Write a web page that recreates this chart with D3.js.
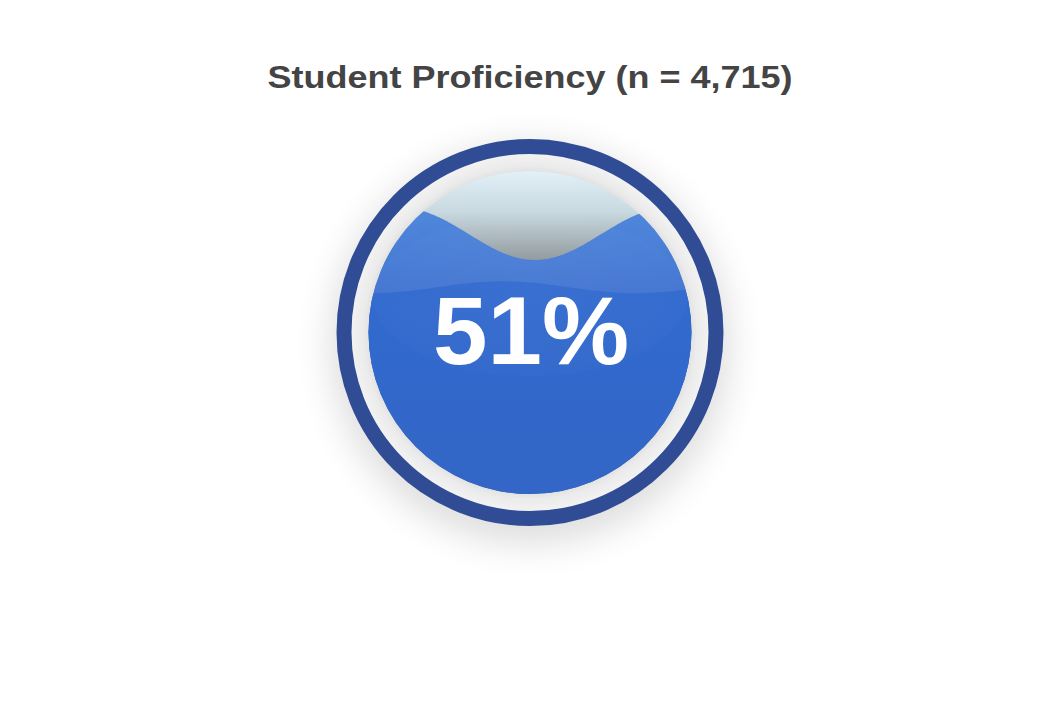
<!DOCTYPE html>
<html>
<head>
<meta charset="utf-8">
<script src="https://cdn.jsdelivr.net/npm/d3@7"></script>
<style>
  html, body { margin: 0; padding: 0; background: #fff; }
  svg { display: block; }
</style>
</head>
<body>
<svg id="chart" width="1038" height="719"></svg>
<script>
// ---- data ----
const titleText = ["Student Proficiency (n = 4,715)"];
const values = [51];              // percent proficient
const sampleSize = [4715];

// ---- layout / style ----
const W = 1038, H = 719;
const cx = 530, cy = 332.5;
const outerR = 193.5, ringW = 15, innerR = 161.5;
const ringColor = "#304c94";
const waveFront = { level: 0.805, amp: 26, len: 266, phaseX: 535 };
const waveBack  = { level: 0.64,  amp: 6,  len: 266, phaseX: 503 };

const svg = d3.select("#chart");
const defs = svg.append("defs");

// drop shadow
const f = defs.append("filter").attr("id", "shadow")
  .attr("x", "-50%").attr("y", "-50%").attr("width", "200%").attr("height", "200%");
f.append("feGaussianBlur").attr("stdDeviation", 18);

// empty area gradient
const gEmpty = defs.append("linearGradient").attr("id", "gEmpty")
  .attr("gradientUnits", "userSpaceOnUse").attr("x1", 0).attr("x2", 0)
  .attr("y1", cy - innerR).attr("y2", 262);
gEmpty.append("stop").attr("offset", 0).attr("stop-color", "#e2f0f8");
gEmpty.append("stop").attr("offset", 0.45).attr("stop-color", "#c9d9e0");
gEmpty.append("stop").attr("offset", 1).attr("stop-color", "#8d969a");

// front wave gradient
const gFront = defs.append("linearGradient").attr("id", "gFront")
  .attr("gradientUnits", "userSpaceOnUse").attr("x1", 0).attr("x2", 0)
  .attr("y1", 205).attr("y2", 300);
gFront.append("stop").attr("offset", 0).attr("stop-color", "#5089dc");
gFront.append("stop").attr("offset", 1).attr("stop-color", "#4273d0");

// back wave gradient
const gBack = defs.append("linearGradient").attr("id", "gBack")
  .attr("gradientUnits", "userSpaceOnUse").attr("x1", 0).attr("x2", 0)
  .attr("y1", 275).attr("y2", cy + innerR);
gBack.append("stop").attr("offset", 0).attr("stop-color", "#316acf");
gBack.append("stop").attr("offset", 1).attr("stop-color", "#3366c6");

// gap radial gradient
const gGap = defs.append("radialGradient").attr("id", "gGap")
  .attr("gradientUnits", "userSpaceOnUse").attr("cx", cx).attr("cy", cy).attr("r", outerR - ringW);
gGap.append("stop").attr("offset", innerR / (outerR - ringW) - 0.01).attr("stop-color", "#e0e0e0");
gGap.append("stop").attr("offset", innerR / (outerR - ringW) + 0.03).attr("stop-color", "#ebebeb");
gGap.append("stop").attr("offset", 1).attr("stop-color", "#f2f2f2");

// gloss
const gGloss = defs.append("radialGradient").attr("id", "gGloss");
gGloss.append("stop").attr("offset", 0).attr("stop-color", "#fff").attr("stop-opacity", 0.04);
gGloss.append("stop").attr("offset", 1).attr("stop-color", "#fff").attr("stop-opacity", 0.015);

defs.append("clipPath").attr("id", "clipInner")
  .append("circle").attr("cx", cx).attr("cy", cy).attr("r", innerR);

// title
svg.append("text")
  .attr("x", cx).attr("y", 87.5)
  .attr("text-anchor", "middle")
  .attr("font-family", "'Liberation Sans', Arial, sans-serif")
  .attr("font-weight", "bold")
  .attr("font-size", 31)
  .attr("textLength", 525).attr("lengthAdjust", "spacingAndGlyphs")
  .attr("fill", "#444")
  .text(titleText[0]);

// shadow
svg.append("circle").attr("cx", cx).attr("cy", cy + 12).attr("r", outerR + 6)
  .attr("fill", "#000").attr("opacity", 0.13).attr("filter", "url(#shadow)");

// outer disc (gap area)
svg.append("circle").attr("cx", cx).attr("cy", cy).attr("r", outerR - ringW / 2)
  .attr("fill", "url(#gGap)");
// ring
svg.append("circle").attr("cx", cx).attr("cy", cy).attr("r", outerR - ringW / 2)
  .attr("fill", "none").attr("stroke", ringColor).attr("stroke-width", ringW);

// scales
const yScale = d3.scaleLinear().domain([0, 1]).range([cy + innerR, cy - innerR]);
const xs = d3.range(cx - innerR - 2, cx + innerR + 3, 2);

const inner = svg.append("g").attr("clip-path", "url(#clipInner)");
inner.append("circle").attr("cx", cx).attr("cy", cy).attr("r", innerR).attr("fill", "url(#gEmpty)");

function wavePath(w) {
  const mean = yScale(w.level);
  return d3.area()
    .x(d => d)
    .y0(cy + innerR + 2)
    .y1(d => mean + w.amp * Math.cos(2 * Math.PI * (d - w.phaseX) / w.len))
    .curve(d3.curveBasis)(xs);
}
inner.append("path").attr("d", wavePath(waveFront)).attr("fill", "url(#gFront)");
inner.append("path").attr("d", wavePath({...waveBack, amp: -waveBack.amp})).attr("fill", "url(#gBack)");

// gloss ellipse
inner.append("ellipse").attr("cx", cx).attr("cy", 296).attr("rx", 158).attr("ry", 80)
  .attr("fill", "url(#gGloss)");

// value label
const fmt = d => d + "%";
inner.append("text")
  .attr("x", 531).attr("y", 363.5)
  .attr("text-anchor", "middle")
  .attr("font-family", "'Liberation Sans', Arial, sans-serif")
  .attr("font-weight", "bold")
  .attr("font-size", 96)
  .attr("textLength", 196).attr("lengthAdjust", "spacingAndGlyphs")
  .attr("fill", "#fff")
  .text(fmt(values[0]));
</script>
</body>
</html>
